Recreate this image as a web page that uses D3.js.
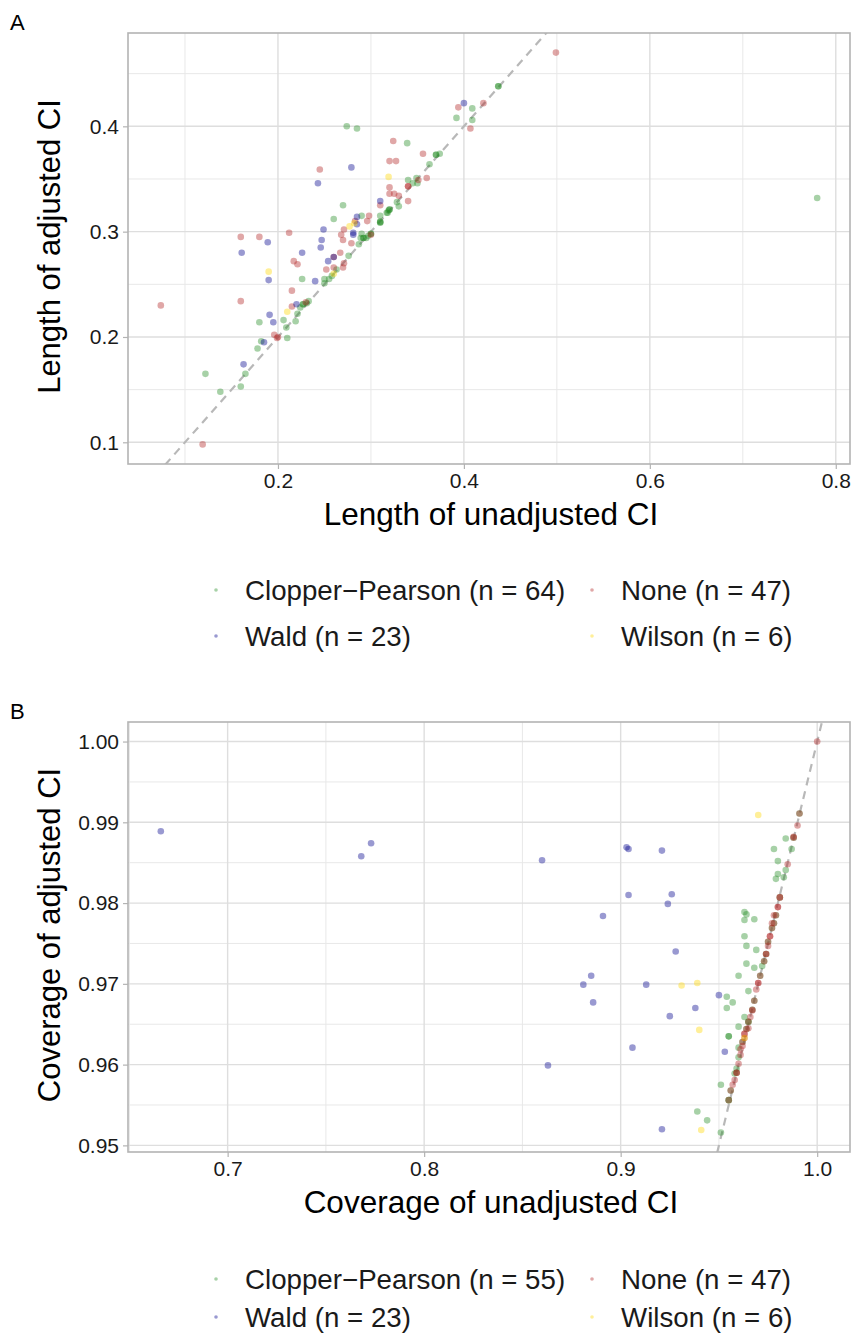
<!DOCTYPE html>
<html lang="en">
<head>
<meta charset="UTF-8">
<title>Adjusted vs unadjusted CI</title>
<script src="https://d3js.org/d3.v7.min.js"></script>
<style>
  body { margin: 0; background: #fff; }
  text { font-family: "Liberation Sans", Arial, sans-serif; }
</style>
</head>
<body>
<svg id="main" width="856" height="1340"></svg>
<script>
// methods, colours (drawn with alpha) and legend labels
const methods = ['Clopper-Pearson', 'None', 'Wald', 'Wilson'];
const colors = ['forestgreen', 'firebrick', 'darkblue', 'gold'];
const legendA = ['Clopper\u2212Pearson (n = 64)', 'None (n = 47)', 'Wald (n = 23)', 'Wilson (n = 6)'];
const legendB = ['Clopper\u2212Pearson (n = 55)', 'None (n = 47)', 'Wald (n = 23)', 'Wilson (n = 6)'];

// panel A: [length of unadjusted CI, length of adjusted CI]
const lenCP = [[0.274,0.400],[0.285,0.398],[0.339,0.384],[0.340,0.349],[0.270,0.325],[0.328,0.328],[0.330,0.324],[0.318,0.318],[0.320,0.321],[0.260,0.312],
  [0.290,0.315],[0.310,0.315],[0.310,0.3095],[0.310,0.3085],[0.290,0.298],[0.289,0.294],[0.300,0.298],[0.295,0.294],[0.297,0.296],[0.287,0.288],
  [0.276,0.277],[0.263,0.264],[0.226,0.255],[0.250,0.255],[0.255,0.255],[0.258,0.258],[0.250,0.251],[0.224,0.228],[0.227,0.231],[0.231,0.232],
  [0.180,0.214],[0.206,0.216],[0.221,0.222],[0.219,0.215],[0.209,0.209],[0.210,0.199],[0.182,0.196],[0.178,0.189],[0.165,0.165],[0.122,0.165],
  [0.138,0.148],[0.160,0.153],[0.437,0.438],[0.409,0.417],[0.392,0.408],[0.409,0.406],[0.370,0.373],[0.374,0.374],[0.363,0.364],[0.349,0.351],
  [0.345,0.346],[0.350,0.346],[0.319,0.320],[0.317,0.318],[0.780,0.332],[0.292,0.294],[0.437,0.438],[0.370,0.373],[0.300,0.298],[0.310,0.309],
  [0.320,0.321],[0.292,0.294],[0.227,0.231],[0.233,0.234]];
const lenNone = [[0.324,0.386],[0.320,0.367],[0.327,0.367],[0.245,0.359],[0.320,0.342],[0.340,0.343],[0.320,0.336],[0.325,0.336],[0.330,0.334],[0.340,0.329],
  [0.310,0.325],[0.298,0.315],[0.296,0.310],[0.283,0.310],[0.271,0.302],[0.268,0.297],[0.300,0.297],[0.160,0.295],[0.180,0.295],[0.212,0.299],
  [0.270,0.292],[0.279,0.289],[0.217,0.272],[0.221,0.269],[0.267,0.280],[0.260,0.276],[0.271,0.270],[0.260,0.266],[0.270,0.266],[0.252,0.264],
  [0.215,0.244],[0.160,0.234],[0.074,0.230],[0.215,0.229],[0.230,0.233],[0.196,0.202],[0.199,0.199],[0.119,0.098],[0.499,0.470],[0.394,0.418],
  [0.421,0.422],[0.407,0.398],[0.356,0.374],[0.360,0.351],[0.351,0.349],[0.340,0.343],[0.200,0.200]];
const lenWald = [[0.279,0.361],[0.243,0.346],[0.310,0.329],[0.285,0.314],[0.249,0.302],[0.281,0.299],[0.281,0.297],[0.189,0.290],[0.247,0.292],[0.246,0.285],
  [0.161,0.280],[0.226,0.280],[0.260,0.276],[0.254,0.272],[0.190,0.254],[0.240,0.253],[0.220,0.231],[0.191,0.221],[0.195,0.214],[0.185,0.195],
  [0.163,0.174],[0.400,0.422],[0.285,0.307]];
const lenWilson = [[0.319,0.352],[0.282,0.308],[0.277,0.305],[0.190,0.262],[0.260,0.260],[0.210,0.224]];

// panel B: [coverage of unadjusted CI, coverage of adjusted CI]
const covCP = [[0.991,0.9911],[0.984,0.9880],[0.978,0.9867],[0.987,0.9867],[0.980,0.9852],[0.980,0.9836],[0.979,0.9830],[0.984,0.9841],[0.983,0.9832],[0.981,0.9807],
  [0.963,0.9789],[0.964,0.9786],[0.963,0.9779],[0.968,0.9780],[0.963,0.9759],[0.975,0.9752],[0.964,0.9747],[0.969,0.9742],[0.973,0.9728],[0.964,0.9725],
  [0.968,0.9720],[0.972,0.9722],[0.960,0.9710],[0.965,0.9691],[0.968,0.9679],[0.954,0.9684],[0.957,0.9677],[0.954,0.9670],[0.963,0.9659],[0.965,0.9653],
  [0.965,0.9653],[0.960,0.9647],[0.955,0.9635],[0.960,0.9621],[0.960,0.9609],[0.959,0.9595],[0.958,0.9589],[0.951,0.9575],[0.956,0.9568],[0.955,0.9556],
  [0.955,0.9556],[0.939,0.9542],[0.944,0.9531],[0.951,0.9516],[0.955,0.9635],[0.988,0.9881],[0.978,0.9775],[0.977,0.9769],[0.979,0.9785],[0.967,0.9668],
  [0.964,0.9644],[0.959,0.9590],[0.962,0.9628],[0.974,0.9737],[0.971,0.9710]];
const covNone = [[1.000,1.0000],[0.991,0.9911],[0.990,0.9896],[0.988,0.9881],[0.988,0.9882],[0.985,0.9848],[0.981,0.9807],[0.980,0.9795],[0.979,0.9785],[0.978,0.9785],
  [0.978,0.9775],[0.977,0.9775],[0.977,0.9769],[0.976,0.9759],[0.975,0.9752],[0.975,0.9747],[0.974,0.9737],[0.971,0.9710],[0.970,0.9701],[0.968,0.9679],
  [0.967,0.9668],[0.967,0.9667],[0.964,0.9644],[0.965,0.9645],[0.963,0.9638],[0.962,0.9628],[0.962,0.9623],[0.961,0.9619],[0.960,0.9601],[0.959,0.9590],
  [0.959,0.9590],[0.957,0.9575],[0.956,0.9568],[0.955,0.9556],[0.963,0.9633],[0.981,0.9807],[0.980,0.9795],[0.976,0.9759],[0.974,0.9737],[0.973,0.9728],
  [0.970,0.9701],[0.969,0.9693],[0.966,0.9659],[0.965,0.9653],[0.963,0.9638],[0.961,0.9612],[0.958,0.9581]];
const covWald = [[0.666,0.9889],[0.768,0.9858],[0.773,0.9874],[0.860,0.9853],[0.903,0.9869],[0.904,0.9867],[0.921,0.9865],[0.904,0.9810],[0.926,0.9811],[0.924,0.9799],
  [0.891,0.9784],[0.928,0.9740],[0.885,0.9710],[0.881,0.9699],[0.913,0.9699],[0.886,0.9677],[0.925,0.9660],[0.938,0.9670],[0.906,0.9621],[0.863,0.9599],
  [0.950,0.9686],[0.953,0.9616],[0.921,0.9520]];
const covWilson = [[0.970,0.9909],[0.931,0.9698],[0.939,0.9701],[0.940,0.9643],[0.941,0.9519],[0.963,0.9633]];

// tick values
const ticksAx = [0.2, 0.4, 0.6, 0.8];
const ticksAy = [0.1, 0.2, 0.3, 0.4];
const ticksBx = [0.7, 0.8, 0.9, 1.0];
const ticksBy = [0.95, 0.96, 0.97, 0.98, 0.99, 1.00];

let svg = d3.select('svg#main');

// ggplot-like 5% expansion of the data range
function expand(ext) {
  let d = (ext[1] - ext[0]) * 0.05;
  return [ext[0] - d, ext[1] + d];
}
// minor breaks halfway between majors, kept inside the limits
function minors(ticks, dom) {
  let step = ticks[1] - ticks[0];
  let out = [ticks[0] - step / 2];
  ticks.forEach(t => out.push(t + step / 2));
  return out.filter(v => v > dom[0] && v < dom[1]);
}

function drawPanel(p) {
  let g = svg.append('g');
  let all = [].concat(...p.series);
  let xDom = expand(d3.extent(all, d => d[0]));
  let yDom = expand(d3.extent(all, d => d[1]));
  let x = d3.scaleLinear().domain(xDom).range([p.left, p.right]);
  let y = d3.scaleLinear().domain(yDom).range([p.bottom, p.top]);

  // panel letter
  g.append('text').attr('x', 10).attr('y', p.top - 3)
    .style('font-size', '22px').text(p.letter);

  // grid
  let grid = g.append('g');
  grid.selectAll('.vminor').data(minors(p.xticks, xDom)).enter().append('line')
    .attr('x1', d => x(d)).attr('x2', d => x(d)).attr('y1', p.top).attr('y2', p.bottom)
    .attr('stroke', '#e8e8e8').attr('stroke-width', 1);
  grid.selectAll('.hminor').data(minors(p.yticks, yDom)).enter().append('line')
    .attr('y1', d => y(d)).attr('y2', d => y(d)).attr('x1', p.left).attr('x2', p.right)
    .attr('stroke', '#e8e8e8').attr('stroke-width', 1);
  grid.selectAll('.vmajor').data(p.xticks).enter().append('line')
    .attr('x1', d => x(d)).attr('x2', d => x(d)).attr('y1', p.top).attr('y2', p.bottom)
    .attr('stroke', '#dedede').attr('stroke-width', 1.4);
  grid.selectAll('.hmajor').data(p.yticks).enter().append('line')
    .attr('y1', d => y(d)).attr('y2', d => y(d)).attr('x1', p.left).attr('x2', p.right)
    .attr('stroke', '#dedede').attr('stroke-width', 1.4);

  // clip for the y = x line
  let clipId = 'clip' + p.letter;
  g.append('clipPath').attr('id', clipId).append('rect')
    .attr('x', p.left).attr('y', p.top).attr('width', p.right - p.left).attr('height', p.bottom - p.top);
  let lo = Math.min(xDom[0], yDom[0]), hi = Math.max(xDom[1], yDom[1]);
  g.append('line').attr('clip-path', 'url(#' + clipId + ')')
    .attr('x1', x(lo)).attr('y1', y(lo)).attr('x2', x(hi)).attr('y2', y(hi))
    .attr('stroke', '#b8b8b8').attr('stroke-width', 2.2).attr('stroke-dasharray', '8,6');

  // points
  p.series.forEach(function (s, i) {
    g.append('g').selectAll('circle').data(s).enter().append('circle')
      .attr('cx', d => x(d[0])).attr('cy', d => y(d[1])).attr('r', 3.3)
      .attr('fill', colors[i]).attr('fill-opacity', 0.4);
  });

  // border
  g.append('rect').attr('x', p.left).attr('y', p.top)
    .attr('width', p.right - p.left).attr('height', p.bottom - p.top)
    .attr('fill', 'none').attr('stroke', '#b3b3b3').attr('stroke-width', 1.6);

  // axes
  let xAxis = g.append('g').attr('transform', 'translate(0,' + p.bottom + ')')
    .call(d3.axisBottom(x).tickValues(p.xticks).tickFormat(d3.format(p.xfmt)).tickSize(5).tickPadding(4));
  let yAxis = g.append('g').attr('transform', 'translate(' + p.left + ',0)')
    .call(d3.axisLeft(y).tickValues(p.yticks).tickFormat(d3.format(p.yfmt)).tickSize(5).tickPadding(4));
  [xAxis, yAxis].forEach(a => {
    a.select('.domain').remove();
    a.selectAll('line').attr('stroke', '#b3b3b3').attr('stroke-width', 1.2);
    a.selectAll('text').attr('fill', '#1a1a1a').style('font-size', '21px')
      .style('font-family', '"Liberation Sans", Arial, sans-serif');
  });

  // axis titles
  g.append('text').attr('x', (p.left + p.right) / 2 + 2).attr('y', p.bottom + 61)
    .attr('text-anchor', 'middle').style('font-size', '31.5px').text(p.xtitle);
  g.append('text').attr('transform', 'translate(' + 60 + ',' + ((p.top + p.bottom) / 2 - 2) + ') rotate(-90)')
    .attr('text-anchor', 'middle').style('font-size', '31px').text(p.ytitle);

  // legend, 2 x 2 filled by row
  let lg = g.append('g');
  p.legend.forEach(function (lab, i) {
    let col = i % 2, row = Math.floor(i / 2);
    let kx = col === 0 ? 216 : 592;
    let ky = p.legendY + row * p.legendGap;
    lg.append('circle').attr('cx', kx).attr('cy', ky).attr('r', 1.8)
      .attr('fill', colors[i]).attr('fill-opacity', 0.4);
    lg.append('text').attr('x', kx + 29).attr('y', ky + 10)
      .style('font-size', '27.7px').attr('fill', '#1a1a1a').text(lab);
  });
}

drawPanel({
  letter: 'A', left: 128, right: 850, top: 33, bottom: 464,
  series: [lenCP, lenNone, lenWald, lenWilson],
  xticks: ticksAx, yticks: ticksAy, xfmt: '.1f', yfmt: '.1f',
  xtitle: 'Length of unadjusted CI', ytitle: 'Length of adjusted CI',
  legend: legendA, legendY: 590, legendGap: 46
});
drawPanel({
  letter: 'B', left: 128, right: 850, top: 722, bottom: 1152,
  series: [covCP, covNone, covWald, covWilson],
  xticks: ticksBx, yticks: ticksBy, xfmt: '.1f', yfmt: '.2f',
  xtitle: 'Coverage of unadjusted CI', ytitle: 'Coverage of adjusted CI',
  legend: legendB, legendY: 1279, legendGap: 38
});
</script>
</body>
</html>
